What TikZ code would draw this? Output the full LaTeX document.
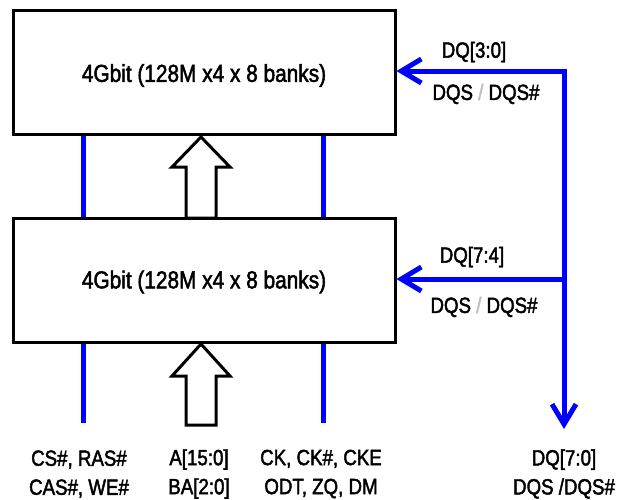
\documentclass[tikz,border=0pt]{standalone}
\usepackage{fontspec}
\setmainfont[FakeStretch=0.85,FakeBold=2]{Liberation Sans}
\usetikzlibrary{arrows.meta}
\definecolor{busblue}{RGB}{0,0,255}
\begin{document}
\begin{tikzpicture}[x=1pt,y=-1pt,
  chip/.style={draw=black,line width=3pt,minimum width=382pt,minimum height=124pt,inner sep=0pt,
    font=\fontsize{24.5}{28}\selectfont},
  chiptext/.style={inner sep=0pt,font=\fontsize{24.5}{28}\selectfont},
  bus/.style={draw=busblue,line width=5pt},
  busarrow/.style={bus,-{Straight Barb[length=20pt,width=24pt]}},
  hollow/.style={draw=black,line width=3pt,fill=white,line join=miter},
  lbl/.style={inner sep=0pt,font=\fontsize{22}{29}\selectfont,align=center},
]
\useasboundingbox (0,0) rectangle (624,499);
\fill[white] (0,0) rectangle (624,499);

\node[chip] (top) at (204,72.5) {};
\node[chip] (bot) at (204,280.5) {};
\node[chiptext] (toptext) at (204,75.5) {4Gbit (128M x4 x 8 banks)};
\node[chiptext] (bottext) at (204,282) {4Gbit (128M x4 x 8 banks)};

% bus column positions
\coordinate (c1) at (83,0);
\coordinate (c2) at (323,0);
\coordinate (l1) at (83,423);
\coordinate (l2) at (323,423);

% vertical blue lines
\draw[bus] (top.south -| c1) -- (bot.north -| c1);
\draw[bus] (top.south -| c2) -- (bot.north -| c2);
\draw[bus] (bot.south -| c1) -- (l1);
\draw[bus] (bot.south -| c2) -- (l2);

% hollow address arrows
\draw[hollow] (201,137) -- (230,167) -- (216,167) -- (216,218) -- (186,218) -- (186,167) -- (172,167) -- cycle;
\draw[hollow] (201,344) -- (230,376) -- (216,376) -- (216,425) -- (186,425) -- (186,376) -- (172,376) -- cycle;

% DQ bus on the right
\coordinate (j1) at (564,71);
\coordinate (j2) at (564,279);
\coordinate (dqend) at (564,429);
\draw[bus,line cap=rect] (j1) -- (j2);
\draw[busarrow] (j2) -- (dqend);
\draw[busarrow] (j1) -- (j1 -| top.east);
\draw[busarrow] (j2) -- (j2 -| bot.east);

% labels
\node[lbl] (dq30) at (474,52) {DQ[3:0]};
\node[lbl] (dqs1) at (486,94) {DQS {\color{black!25}/} DQS\#};
\node[lbl] (dq74) at (472,257) {DQ[7:4]};
\node[lbl] (dqs2) at (484,307) {DQS {\color{black!25}/} DQS\#};

\node[lbl] (b1) at (79,474) {CS\#, RAS\#\\CAS\#, WE\#};
\node[lbl] (b2) at (199,474) {A[15:0]\\BA[2:0]};
\node[lbl] (b3) at (321,474) {CK, CK\#, CKE\\ODT, ZQ, DM};
\node[lbl] (b4) at (564,474) {DQ[7:0]\\DQS /DQS\#};
\end{tikzpicture}
\end{document}
